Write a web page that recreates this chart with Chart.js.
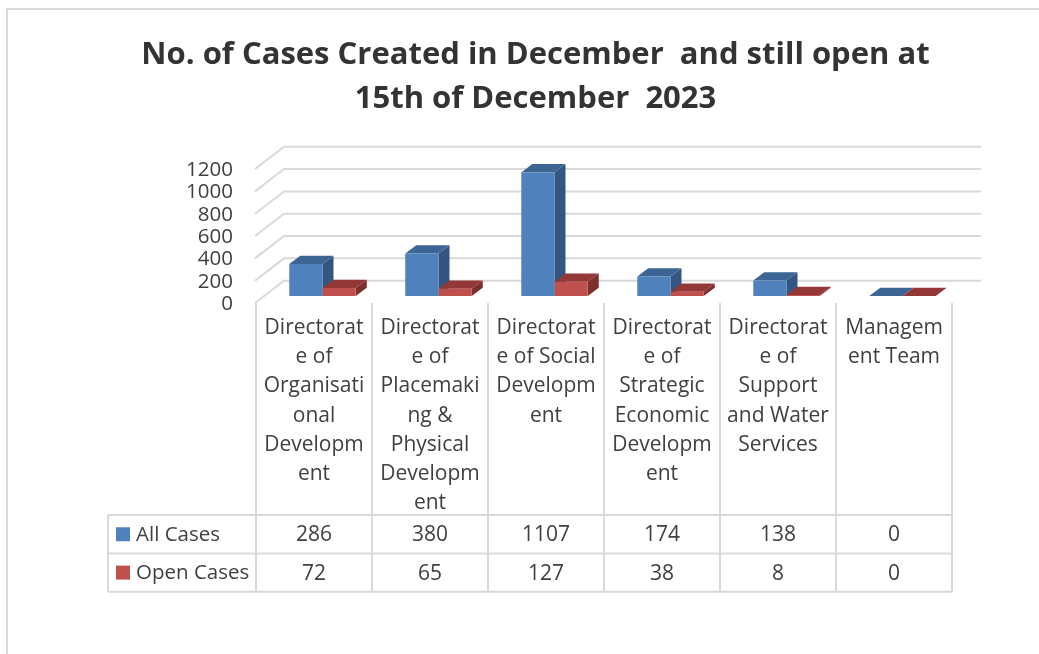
<!DOCTYPE html>
<html>
<head>
<meta charset="utf-8">
<title>No. of Cases Created in December</title>
<script src="https://cdn.jsdelivr.net/npm/chart.js@4"></script>
<style>
  body { margin: 0; background: #fff; }
  canvas { display: block; }
</style>
</head>
<body>
<canvas id="casesChart" width="1039" height="654"></canvas>
<script>
const chartTitle = ['No. of Cases Created in December  and still open at', '15th of December  2023'];
const categories = [
    ['Directorat', 'e of', 'Organisati', 'onal', 'Developm', 'ent'],
    ['Directorat', 'e of', 'Placemaki', 'ng &', 'Physical', 'Developm', 'ent'],
    ['Directorat', 'e of Social', 'Developm', 'ent'],
    ['Directorat', 'e of', 'Strategic', 'Economic', 'Developm', 'ent'],
    ['Directorat', 'e of', 'Support', 'and Water', 'Services'],
    ['Managem', 'ent Team']
];
const seriesNames = ['All Cases', 'Open Cases'];
const allCases = [286, 380, 1107, 174, 138, 0];
const openCases = [72, 65, 127, 38, 8, 0];
const yMax = 1200;
const yStep = 200;

const blue = { front: '#4f81bd', side: '#325581', top: '#3d6594' };
const red = { front: '#c0504d', side: '#7d2f2d', top: '#933836' };
const faces = [blue, red];
const lineColor = '#d9d9d9';
const textColor = '#404040';
const fontFamily = '"Open Sans", sans-serif';

const wall = { dx: 28, dy: 22.3, backRight: 981 };
const barShift = { x: 8.5, y: -7 };
const barDepth = { x: 11, y: 8.3 };
const table = { left: 108, rows: [515, 553.5, 591.7] };

function poly(ctx, color, pts) {
    ctx.fillStyle = color;
    ctx.beginPath();
    pts.forEach((p, i) => i ? ctx.lineTo(p[0], p[1]) : ctx.moveTo(p[0], p[1]));
    ctx.closePath();
    ctx.fill();
}

function hline(ctx, pts) {
    ctx.beginPath();
    pts.forEach((p, i) => i ? ctx.lineTo(p[0], p[1]) : ctx.moveTo(p[0], p[1]));
    ctx.stroke();
}

// 3D walls, bar side and top faces, and the data table under the axis
const chart3d = {
    id: 'chart3d',
    beforeDraw(chart) {
        const ctx = chart.ctx;
        ctx.save();
        ctx.strokeStyle = lineColor;
        ctx.lineWidth = 2;
        hline(ctx, [[7, 654], [7, 9], [1039, 9]]);
        ctx.restore();
    },
    beforeDatasetsDraw(chart) {
        const ctx = chart.ctx;
        const { left } = chart.chartArea;
        const y = chart.scales.y;

        ctx.save();
        ctx.strokeStyle = lineColor;
        ctx.lineWidth = 2;
        y.ticks.forEach((t, i) => {
            const py = y.getPixelForTick(i);
            hline(ctx, [[left - 1, py], [left + wall.dx, py - wall.dy], [wall.backRight, py - wall.dy]]);
        });
        ctx.restore();

        ctx.save();
        ctx.translate(barShift.x, barShift.y);
        chart.data.datasets.forEach((ds, d) => {
            chart.getDatasetMeta(d).data.forEach(bar => {
                const x0 = bar.x - bar.width / 2;
                const x1 = bar.x + bar.width / 2;
                const dx = barDepth.x;
                const dy = barDepth.y;
                poly(ctx, faces[d].side, [[x1, bar.y], [x1 + dx, bar.y - dy], [x1 + dx, bar.base - dy], [x1, bar.base]]);
                poly(ctx, faces[d].top, [[x0, bar.y], [x0 + dx, bar.y - dy], [x1 + dx, bar.y - dy], [x1, bar.y]]);
            });
        });
    },
    afterDatasetsDraw(chart) {
        chart.ctx.restore();
    },
    afterDraw(chart) {
        const ctx = chart.ctx;
        const x = chart.scales.x;
        const { left, right, bottom } = chart.chartArea;
        const rows = table.rows;

        ctx.save();
        ctx.strokeStyle = lineColor;
        ctx.lineWidth = 2;
        rows.forEach(r => hline(ctx, [[table.left, r], [right, r]]));
        hline(ctx, [[table.left, rows[0]], [table.left, rows[2]]]);
        categories.forEach((c, i) => {
            const px = left + (right - left) * i / categories.length;
            hline(ctx, [[px, bottom], [px, rows[2]]]);
        });
        hline(ctx, [[right, bottom], [right, rows[2]]]);

        ctx.textBaseline = 'middle';
        [allCases, openCases].forEach((vals, r) => {
            const my = (rows[r] + rows[r + 1]) / 2;
            ctx.fillStyle = faces[r].front;
            ctx.fillRect(116, my - 7, 14, 14);
            ctx.fillStyle = textColor;
            ctx.font = '20.5px ' + fontFamily;
            ctx.textAlign = 'left';
            ctx.fillText(seriesNames[r], 136, my + 1);
            ctx.font = '21px ' + fontFamily;
            ctx.textAlign = 'center';
            vals.forEach((v, i) => ctx.fillText(String(v), x.getPixelForTick(i), my + 1));
        });
        ctx.restore();
    }
};

new Chart(document.getElementById('casesChart'), {
    type: 'bar',
    data: {
        labels: categories,
        datasets: [
            { label: seriesNames[0], data: allCases, backgroundColor: blue.front },
            { label: seriesNames[1], data: openCases, backgroundColor: red.front }
        ]
    },
    plugins: [chart3d],
    options: {
        responsive: false,
        animation: false,
        layout: { padding: { left: 32, right: 0, top: 0, bottom: 0 } },
        datasets: { bar: { categoryPercentage: 0.573, barPercentage: 1 } },
        plugins: {
            legend: { display: false },
            tooltip: { enabled: false },
            title: {
                display: true,
                text: chartTitle,
                color: '#333333',
                font: { family: fontFamily, size: 31, weight: 'bold', lineHeight: 1.42 },
                padding: { top: 33, bottom: 48 }
            }
        },
        scales: {
            x: {
                grid: { display: false },
                border: { display: false },
                afterFit: s => { s.height = 351; },
                ticks: {
                    color: textColor,
                    font: { family: fontFamily, size: 21, lineHeight: 1.395 },
                    padding: 2,
                    maxRotation: 0,
                    minRotation: 0,
                    autoSkip: false
                }
            },
            y: {
                min: 0,
                max: yMax,
                grid: { display: false, drawTicks: false },
                border: { display: false },
                afterFit: s => { s.width = 224; },
                ticks: {
                    stepSize: yStep,
                    autoSkip: false,
                    callback: v => String(v),
                    color: textColor,
                    font: { family: fontFamily, size: 20.5 },
                    labelOffset: 1,
                    padding: 23
                }
            },
            // keeps the plot's right edge in from the canvas edge
            spacer: {
                position: 'right',
                grid: { display: false, drawTicks: false },
                border: { display: false },
                ticks: { display: false },
                afterFit: s => { s.width = 87; }
            }
        }
    }
});
</script>
</body>
</html>
